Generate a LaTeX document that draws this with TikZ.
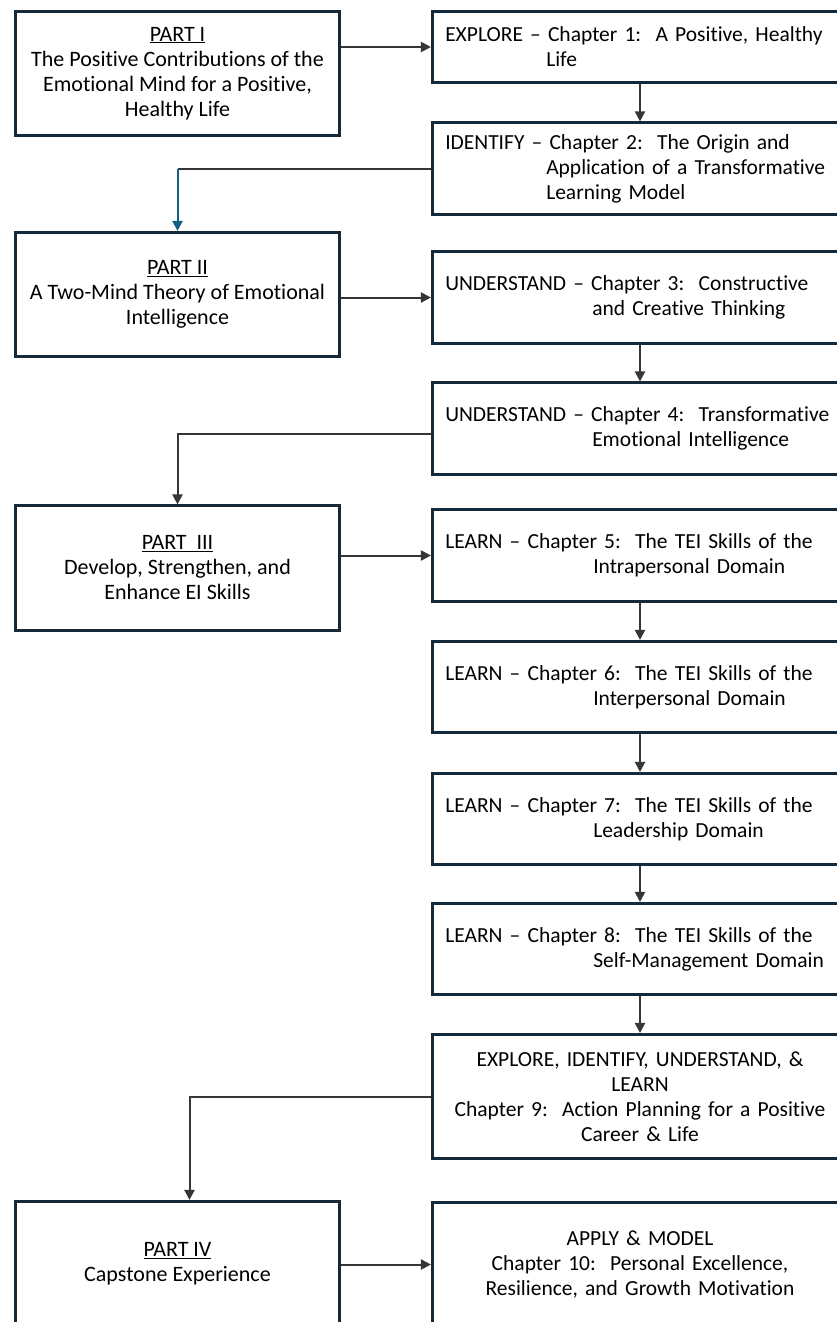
\documentclass[tikz,border=0pt]{standalone}
\usepackage{fontspec}
\setmainfont{Carlito}[Ligatures=NoCommon]
\usetikzlibrary{arrows.meta}

\definecolor{boxline}{HTML}{14293A}
\definecolor{linkgray}{HTML}{363636}
\definecolor{linkblue}{HTML}{156082}

\tikzset{
  partbox/.style={font=\fontsize{22pt}{25pt}\selectfont, draw=boxline, line width=2.6pt,
    minimum width=324.5pt, minimum height=124.5pt, align=center, inner sep=0pt},
  chapbox/.style={font=\fontsize{21.5pt}{25pt}\selectfont, draw=boxline, line width=2.6pt,
    text width=389.5pt, inner xsep=13pt, inner ysep=0pt, align=left},
  chapmid/.style={chapbox, align=center},
  link/.style={draw=linkgray, line width=2pt, -{Triangle[length=10pt,width=10pt]}},
}

\begin{document}
\begin{tikzpicture}[x=1pt, y=-1pt]
    % page frame, the right and bottom boxes run past it
    \path[use as bounding box, clip] (0,0) rectangle (837,1322);
    \fill[white] (0,0) rectangle (837,1322);
    % column centres
    \def\px{177.5}
    \def\cx{640}

    % parts on the left
    \node[partbox] (part1) at (\px,73.5) {\underline{PART I}\\The Positive Contributions of the\\Emotional Mind for a Positive,\\Healthy Life};
    \node[partbox] (part2) at (\px,294.5) {\underline{PART II}\\A Two-Mind Theory of Emotional\\Intelligence};
    \node[partbox] (part3) at (\px,568) {\underline{PART\ \ III}\\Develop, Strengthen, and\\Enhance EI Skills};
    \node[partbox] (part4) at (\px,1263.5) {\underline{PART IV}\\Capstone Experience};

    % chapters on the right
    \node[chapbox, minimum height=71.5pt] (ch1) at (\cx,47) {\mbox{EXPLORE -- Chapter 1:\ \ A Positive, Healthy}\\\hspace*{101pt}Life};
    \node[chapbox, minimum height=91.5pt] (ch2) at (\cx,168.5) {IDENTIFY -- Chapter 2:\ \ The Origin and\\\hspace*{101pt}\mbox{Application of a Transformative}\\\hspace*{101pt}Learning Model};
    \node[chapbox, minimum height=91.5pt] (ch3) at (\cx,297.5) {UNDERSTAND -- Chapter 3:\ \ Constructive\\\hspace*{147pt}and Creative Thinking};
    \node[chapbox, minimum height=91.5pt] (ch4) at (\cx,428.5) {\mbox{UNDERSTAND -- Chapter 4:\ \ Transformative}\\\hspace*{147pt}Emotional Intelligence};
    \node[chapbox, minimum height=91.5pt] (ch5) at (\cx,555.5) {LEARN -- Chapter 5:\ \ The TEI Skills of the\\\hspace*{148pt}Intrapersonal Domain};
    \node[chapbox, minimum height=91.5pt] (ch6) at (\cx,687) {LEARN -- Chapter 6:\ \ The TEI Skills of the\\\hspace*{148pt}Interpersonal Domain};
    \node[chapbox, minimum height=91.5pt] (ch7) at (\cx,819) {LEARN -- Chapter 7:\ \ The TEI Skills of the\\\hspace*{148pt}Leadership Domain};
    \node[chapbox, minimum height=91.5pt] (ch8) at (\cx,949) {LEARN -- Chapter 8:\ \ The TEI Skills of the\\\hspace*{148pt}\mbox{Self-Management Domain}};
    \node[chapmid, minimum height=124.5pt] (ch9) at (\cx,1096.5) {EXPLORE, IDENTIFY, UNDERSTAND, \&\\LEARN\\Chapter 9:\ \ Action Planning for a Positive\\Career \& Life};
    \node[chapmid, minimum height=124.5pt] (ch10) at (\cx,1264.5) {APPLY \& MODEL\\Chapter 10:\ \ Personal Excellence,\\Resilience, and Growth Motivation};

    % part -> first chapter
    \draw[link] (ch1.west -| part1.east) -- (ch1.west);
    \draw[link] (ch3.west -| part2.east) -- (ch3.west);
    \draw[link] (ch5.west -| part3.east) -- (ch5.west);
    \draw[link] (ch10.west -| part4.east) -- (ch10.west);

    % chapter -> next chapter
    \foreach \a/\b in {ch1/ch2, ch3/ch4, ch5/ch6, ch6/ch7, ch7/ch8, ch8/ch9} {
        \draw[link] (\a.south) -- (\b.north);
    }

    % last chapter of a part -> next part
    \coordinate (k2) at (ch2.west -| part2.north);
    \draw[linkgray, line width=2pt] (ch2.west) -- (k2);
    \draw[link, draw=linkblue, fill=linkblue] (k2) -- (part2.north);
    \coordinate (k4) at ([yshift=-5pt]ch4.west);
    \draw[link] (k4) -| (part3.north);
    \coordinate (k9) at ([xshift=12pt]part4.north);
    \draw[link] (ch9.west) -| (k9);
  \end{tikzpicture}
\end{document}
